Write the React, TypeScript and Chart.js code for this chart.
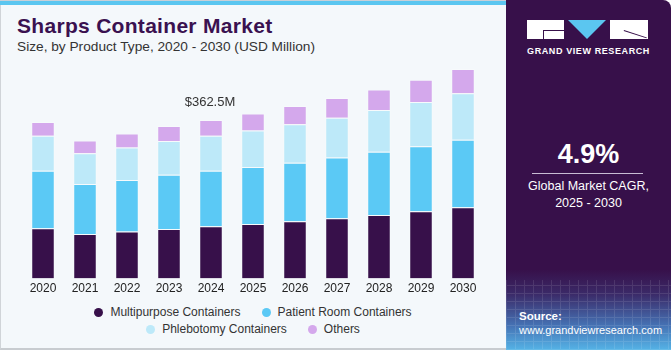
import React, { useEffect, useRef } from "react";
import { Chart, registerables } from "chart.js";

Chart.register(...registerables);

const years = ["2020", "2021", "2022", "2023", "2024", "2025", "2026", "2027", "2028", "2029", "2030"];
const multipurpose = [115.2, 102.1, 107.6, 113.6, 119.8, 125.0, 131.2, 138.1, 145.6, 154.1, 163.3];
const patientRoom = [131.2, 114.5, 118.2, 123.7, 126.6, 130.5, 133.5, 139.0, 144.3, 148.9, 154.1];
const phlebotomy = [80.2, 70.3, 74.2, 77.2, 80.2, 83.4, 88.6, 90.7, 95.5, 100.8, 106.3];
const others = [31.4, 29.1, 32.1, 34.4, 36.0, 38.9, 41.2, 45.1, 47.4, 51.1, 55.6];
const seriesNames = ["Multipurpose Containers", "Patient Room Containers", "Phlebotomy Containers", "Others"];
const seriesColors = ["#37104a", "#5bc9f5", "#bde9f9", "#d4a8ec"];
const annotatedIndex = 4;
const annotationText = "$362.5M";

const FONT = "'Liberation Sans', Arial, sans-serif";

const labelPlugin = {
  id: "topLabel",
  afterDatasetsDraw(chart: any) {
    const meta = chart.getDatasetMeta(chart.data.datasets.length - 1);
    const bar = meta.data[annotatedIndex];
    if (!bar) return;
    const ctx = chart.ctx;
    ctx.save();
    ctx.font = `13px ${FONT}`;
    ctx.fillStyle = "#333333";
    ctx.textAlign = "center";
    ctx.textBaseline = "bottom";
    ctx.fillText(annotationText, bar.x - 1, bar.y - 11);
    ctx.restore();
  },
};

export default function App() {
  const ref = useRef<HTMLCanvasElement | null>(null);

  useEffect(() => {
    document.body.style.margin = "0";
    const values = [multipurpose, patientRoom, phlebotomy, others];
    const chart = new Chart(ref.current as HTMLCanvasElement, {
      type: "bar",
      data: {
        labels: years,
        datasets: seriesNames.map((name, i) => ({
          label: name,
          data: values[i],
          backgroundColor: seriesColors[i],
          borderColor: "rgba(255,255,255,0.25)",
          borderWidth: 1,
          barPercentage: 0.56,
          categoryPercentage: 1,
        })),
      },
      options: {
        animation: false,
        responsive: false,
        maintainAspectRatio: false,
        layout: { padding: { left: 22, right: 16, top: 0, bottom: 1 } },
        plugins: { legend: { display: false }, tooltip: { enabled: false } },
        scales: {
          x: {
            stacked: true,
            grid: { display: false, drawTicks: false },
            border: { display: false },
            ticks: { color: "#222222", font: { family: FONT, size: 12 }, padding: 3 },
          },
          y: { stacked: true, display: false, min: 0, max: 500 },
        },
      },
      plugins: [labelPlugin],
    });
    return () => chart.destroy();
  }, []);

  return (
    <div style={{ position: "fixed", left: 0, top: 0, width: 671, height: 350, background: "#ffffff", overflow: "hidden", fontFamily: FONT }}>
      <div style={{ position: "absolute", left: 0, top: 0, width: 506, height: 350, background: "#f4f8fb", borderLeft: "1px solid #d0d4d8", borderBottom: "2px solid #c8ccd0", boxSizing: "border-box" }} />
      <div style={{ position: "absolute", left: 0, top: 0, width: 506, height: 5, background: "#5bc6f0", borderTop: "1px solid #c8d0d8", boxSizing: "border-box" }} />
      <div style={{ position: "absolute", left: 17, top: 14, fontSize: 21, fontWeight: 900, color: "#3a1150", whiteSpace: "nowrap", letterSpacing: 0.3 }}>Sharps Container Market</div>
      <div style={{ position: "absolute", left: 17, top: 39, fontSize: 13.7, color: "#333333", whiteSpace: "nowrap" }}>Size, by Product Type, 2020 - 2030 (USD Million)</div>
      <canvas ref={ref} width={500} height={240} style={{ position: "absolute", left: 0, top: 60, width: 500, height: 240 }} />
      <div style={{ position: "absolute", left: 0, width: 506, top: 304, display: "flex", flexDirection: "column", alignItems: "center", fontSize: 12, color: "#333333", lineHeight: "17px" }}>
        {[[0, 1], [2, 3]].map((row, r) => (
          <div key={r} style={{ display: "flex", gap: 21 }}>
            {row.map((i) => (
              <div key={i} style={{ display: "flex", alignItems: "center", whiteSpace: "nowrap" }}>
                <span style={{ display: "inline-block", width: 9, height: 9, borderRadius: "50%", background: seriesColors[i], marginRight: 7 }} />
                {seriesNames[i]}
              </div>
            ))}
          </div>
        ))}
      </div>
      <div style={{ position: "absolute", left: 506, top: 0, width: 165, height: 350, borderTopRightRadius: 8, overflow: "hidden", background: "linear-gradient(180deg, #37104a 0%, #37104a 77%, #3b2a68 84%, #4572b4 93%, #55b3e6 100%)" }}>
        <div style={{ position: "absolute", left: 0, top: 280, width: 165, height: 70, opacity: 0.1, backgroundImage: "repeating-linear-gradient(90deg, #ffffff 0px, #ffffff 1px, transparent 1px, transparent 9px), repeating-linear-gradient(0deg, #ffffff 0px, #ffffff 1px, transparent 1px, transparent 8px)" }} />
        <div style={{ position: "absolute", left: 21, top: 20, width: 37, height: 19, background: "#ffffff" }}>
          <div style={{ position: "absolute", left: 16, top: 10, width: 21, height: 1, background: "#37104a" }} />
          <div style={{ position: "absolute", left: 16, top: 10, width: 1, height: 9, background: "#37104a" }} />
        </div>
        <div style={{ position: "absolute", left: 62, top: 20, width: 0, height: 0, borderLeft: "19px solid transparent", borderRight: "19px solid transparent", borderTop: "19px solid #5bc6f0" }} />
        <div style={{ position: "absolute", left: 104, top: 20, width: 38, height: 19, background: "#ffffff" }}>
          <div style={{ position: "absolute", left: 14, top: 10, width: 24, height: 1, background: "#37104a", transform: "rotate(18deg)", transformOrigin: "0 0" }} />
        </div>
        <div style={{ position: "absolute", left: 0, width: 165, top: 46, textAlign: "center", fontSize: 9, fontWeight: 700, letterSpacing: 0.6, color: "#ffffff" }}>GRAND VIEW RESEARCH</div>
        <div style={{ position: "absolute", left: 0, width: 165, top: 139, textAlign: "center", fontSize: 27, fontWeight: 700, color: "#ffffff" }}>4.9%</div>
        <div style={{ position: "absolute", left: 26, top: 173, width: 111, height: 1, background: "#c8bcd4" }} />
        <div style={{ position: "absolute", left: 0, width: 165, top: 178, textAlign: "center", fontSize: 12.5, color: "#ffffff", lineHeight: "17px" }}>
          Global Market CAGR,<br />2025 - 2030
        </div>
        <div style={{ position: "absolute", left: 13, top: 310, fontSize: 11.5, fontWeight: 700, color: "#ffffff" }}>Source:</div>
        <div style={{ position: "absolute", left: 13, top: 324, fontSize: 11, color: "#ffffff", whiteSpace: "nowrap" }}>www.grandviewresearch.com</div>
      </div>
    </div>
  );
}
